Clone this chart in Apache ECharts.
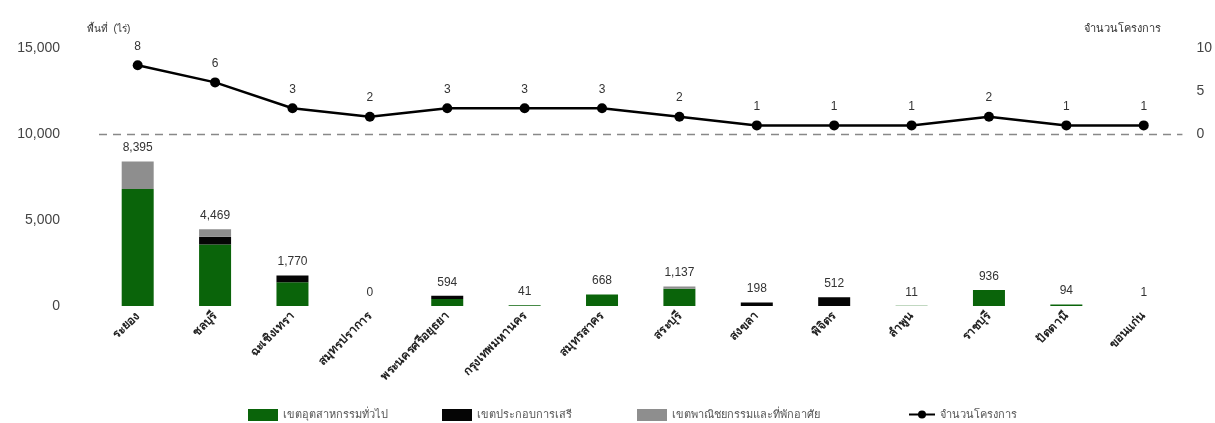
<!DOCTYPE html>
<html><head><meta charset="utf-8">
<script src="https://cdn.jsdelivr.net/npm/echarts@6/dist/echarts.min.js"></script>
<style>html,body{margin:0;padding:0;background:#fff}#c{width:1215px;height:423px}</style>
</head><body><div id="c"></div>
<script>
const categories = ['ระยอง','ชลบุรี','ฉะเชิงเทรา','สมุทรปราการ','พระนครศรีอยุธยา','กรุงเทพมหานคร','สมุทรสาคร','สระบุรี','สงขลา','พิจิตร','ลำพูน','ราชบุรี','ปัตตานี','ขอนแก่น'];
const generalIndustry = [6800, 3580, 1380, 0, 400, 41, 668, 1000, 0, 0, 11, 936, 94, 1];
const freeZone        = [0, 450, 390, 0, 194, 0, 0, 0, 198, 512, 0, 0, 0, 0];
const commercial      = [1595, 439, 0, 0, 0, 0, 0, 137, 0, 0, 0, 0, 0, 0];
const totalArea       = [8395, 4469, 1770, 0, 594, 41, 668, 1137, 198, 512, 11, 936, 94, 1];
const projectCount    = [8, 6, 3, 2, 3, 3, 3, 2, 1, 1, 1, 2, 1, 1];
const leftTicks = [0, 5000, 10000, 15000];
const rightTicks = [0, 5, 10];
const seriesNames = ['เขตอุตสาหกรรมทั่วไป','เขตประกอบการเสรี','เขตพาณิชยกรรมและที่พักอาศัย','จำนวนโครงการ'];

const FONT = 'sans-serif';
const legendLefts = [243, 437, 632, 903];
const legends = seriesNames.map((n, i) => ({
  top: 404, left: legendLefts[i], itemWidth: i === 3 ? 26 : 30, itemHeight: i === 3 ? 10 : 12,
  selectedMode: false,
  data: [i === 3 ? {name: n} : {name: n, icon: 'rect'}],
  textStyle: {fontSize: 11, color: '#555', fontFamily: FONT}
}));

const chart = echarts.init(document.getElementById('c'));
chart.setOption({
  animation: false,
  textStyle: {fontFamily: FONT},
  grid: {left: 99, right: 30, top: 48, bottom: 117},
  legend: legends,
  xAxis: {
    type: 'category', data: categories,
    axisLine: {show: false}, axisTick: {show: false},
    axisLabel: {rotate: 45, interval: 0, fontSize: 12, fontWeight: 'bold', color: '#222', margin: 8, fontFamily: FONT}
  },
  yAxis: [
    {type: 'value', min: 0, max: 15000, interval: 5000, position: 'left',
     name: 'พื้นที่  (ไร่)', nameLocation: 'end', nameGap: 14,
     nameTextStyle: {fontSize: 10, color: '#333', align: 'left', padding: [0,0,0,-12]},
     splitLine: {show: false}, axisLine: {show: false}, axisTick: {show: false},
     axisLabel: {fontSize: 14, color: '#444', margin: 39,
       formatter: v => leftTicks.includes(v) ? v.toLocaleString('en-US') : ''}},
    {type: 'value', min: -20, max: 10, interval: 5, position: 'right',
     name: 'จำนวนโครงการ', nameLocation: 'end', nameGap: 14,
     nameTextStyle: {fontSize: 11, color: '#333', align: 'right', padding: [0,21,0,0]},
     splitLine: {show: false}, axisLine: {show: false}, axisTick: {show: false},
     axisLabel: {fontSize: 14, color: '#444', margin: 14,
       formatter: v => rightTicks.includes(v) ? String(v) : ''}}
  ],
  series: [
    {name: seriesNames[0], type: 'bar', stack: 'a', data: generalIndustry, barWidth: 32,
     itemStyle: {color: '#0a640a'}},
    {name: seriesNames[1], type: 'bar', stack: 'a', data: freeZone, barWidth: 32,
     itemStyle: {color: '#050505'}},
    {name: seriesNames[2], type: 'bar', stack: 'a', data: commercial, barWidth: 32,
     itemStyle: {color: '#8e8e8e'}},
    {name: 'totals', type: 'line', data: totalArea, symbol: 'circle', symbolSize: 1,
     itemStyle: {color: 'rgba(0,0,0,0)'}, lineStyle: {width: 0, color: 'rgba(0,0,0,0)'},
     label: {show: true, position: 'top', distance: 7, fontSize: 12, color: '#333',
       formatter: p => p.value.toLocaleString('en-US')}, silent: true, z: 5},
    {name: seriesNames[3], type: 'line', yAxisIndex: 1, data: projectCount,
     symbol: 'circle', symbolSize: 10, itemStyle: {color: '#000'}, lineStyle: {color: '#000', width: 2.5},
     label: {show: true, position: 'top', distance: 8, fontSize: 12, color: '#333'},
     markLine: {silent: true, symbol: 'none', label: {show: false},
       lineStyle: {color: '#888', type: [8, 6], width: 1.3},
       data: [{yAxis: 0}]}}
  ]
});
</script></body></html>
